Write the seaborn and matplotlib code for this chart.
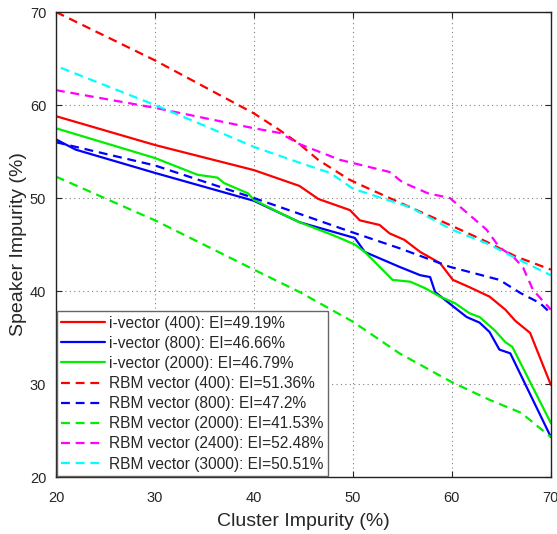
import seaborn as sns
import matplotlib.pyplot as plt
import pandas as pd

# Datos
iv400_x = [20, 30, 40, 44.6, 46.5, 49.7, 50.7, 52.7, 53.7, 55.2, 56.8, 58.8, 60.1, 61.8, 63.8, 65.4, 66.4, 67.9, 70]
iv400_y = [58.8, 55.7, 53.0, 51.3, 49.9, 48.7, 47.6, 47.1, 46.2, 45.5, 44.2, 43.0, 41.2, 40.4, 39.4, 38.0, 36.8, 35.5, 29.9]

iv800_x = [20, 22, 30, 40, 44.6, 50.2, 51.2, 54.7, 56.8, 57.8, 58.3, 60.3, 61.5, 62.8, 63.8, 64.8, 65.9, 70]
iv800_y = [56.3, 55.2, 52.7, 49.7, 47.4, 45.7, 44.2, 42.6, 41.7, 41.5, 39.9, 38.2, 37.2, 36.6, 35.6, 33.7, 33.3, 24.3]

iv2000_x = [20, 30, 34.3, 36.3, 37, 39.4, 40, 43, 44.6, 48, 50.2, 51.2, 52.7, 54, 55.8, 57.3, 58.8, 60.3, 61.8, 62.8, 64.3, 65.4, 66.1, 70]
iv2000_y = [57.5, 54.3, 52.5, 52.2, 51.6, 50.5, 49.8, 48.2, 47.4, 46.0, 45.0, 44.2, 42.6, 41.2, 41.0, 40.3, 39.4, 38.7, 37.6, 37.2, 35.8, 34.5, 34.0, 25.8]

rbm400_x = [20, 30, 40, 42.6, 44.6, 46.5, 49.6, 51.2, 55.8, 59.8, 63.5, 66.5, 70]
rbm400_y = [70, 64.8, 59.1, 57.3, 55.8, 54.1, 52.0, 51.2, 49.0, 47.1, 45.3, 43.7, 42.3]

rbm800_x = [20, 30, 40, 44.6, 49.7, 54.7, 59.8, 64.8, 66.9, 68.9, 70]
rbm800_y = [56.0, 53.5, 50.0, 48.3, 46.4, 44.6, 42.6, 41.2, 39.8, 38.7, 37.6]

rbm2000_x = [20, 30, 40, 44.6, 50, 54.7, 60, 63.8, 67, 70]
rbm2000_y = [52.3, 47.6, 42.3, 39.9, 36.7, 33.3, 30.2, 28.3, 26.9, 24.3]

rbm2400_x = [20, 30, 40, 42.6, 44.6, 48.7, 53.7, 55, 57.6, 59.8, 63.5, 64.8, 66.2, 67.2, 68.2, 70]
rbm2400_y = [61.6, 59.7, 57.5, 57.0, 55.8, 54.1, 52.8, 51.7, 50.5, 50.0, 46.6, 44.7, 43.7, 42.5, 40.1, 38.0]

rbm3000_x = [20.5, 30, 34.5, 40, 44.6, 47.7, 50, 55.8, 60, 63.8, 66.5, 70]
rbm3000_y = [64.0, 60.0, 58.0, 55.5, 53.8, 52.7, 51.0, 49.0, 46.6, 45.0, 43.5, 41.7]

series = [
    ("i-vector (400): EI=49.19%", iv400_x, iv400_y, "#ff0000", "-"),
    ("i-vector (800): EI=46.66%", iv800_x, iv800_y, "#0000ff", "-"),
    ("i-vector (2000): EI=46.79%", iv2000_x, iv2000_y, "#00ee00", "-"),
    ("RBM vector (400): EI=51.36%", rbm400_x, rbm400_y, "#ff0000", "--"),
    ("RBM vector (800): EI=47.2%", rbm800_x, rbm800_y, "#0000ff", "--"),
    ("RBM vector (2000): EI=41.53%", rbm2000_x, rbm2000_y, "#00ee00", "--"),
    ("RBM vector (2400): EI=52.48%", rbm2400_x, rbm2400_y, "#ff00ff", "--"),
    ("RBM vector (3000): EI=50.51%", rbm3000_x, rbm3000_y, "#00ffff", "--"),
]

sns.set_style("ticks")
plt.rcParams['font.family'] = ['Liberation Sans', 'DejaVu Sans']

fig = plt.figure(figsize=(5.57, 5.34), dpi=100)
ax = fig.add_axes([0.1005, 0.1067, 0.8885, 0.8708])

for nombre, xs, ys, color, ls in series:
    df = pd.DataFrame({"x": xs, "y": ys})
    sns.lineplot(data=df, x="x", y="y", ax=ax, color=color, linewidth=1.6,
                 label=nombre, sort=False)
    if ls == "--":
        ax.lines[-1].set_dashes((4, 2.6))

ax.set_xlim(20, 70)
ax.set_ylim(20, 70)
ax.set_xticks([20, 30, 40, 50, 60, 70])
ax.set_yticks([20, 30, 40, 50, 60, 70])
ax.grid(True, linestyle=(0, (1, 3)), color="#808080", linewidth=0.8)
ax.tick_params(direction="in", length=4, labelsize=10.5, top=True, right=True)
ax.tick_params(axis="x", pad=10)
ax.tick_params(axis="y", pad=7)
for s in ax.spines.values():
    s.set_color("#222222")
    s.set_linewidth(1.0)
ax.set_xlabel("Cluster Impurity (%)", fontsize=14, labelpad=6)
ax.set_ylabel("Speaker Impurity (%)", fontsize=14, labelpad=2)

leg = ax.legend(loc="lower left", fontsize=11.2, frameon=True, fancybox=False,
                edgecolor="#666666", handlelength=2.8, handletextpad=0.25,
                labelspacing=0.33, borderaxespad=0.05, borderpad=0.3)
leg.get_frame().set_linewidth(1.0)
leg.get_frame().set_alpha(1)

plt.savefig("out.png", dpi=100)
